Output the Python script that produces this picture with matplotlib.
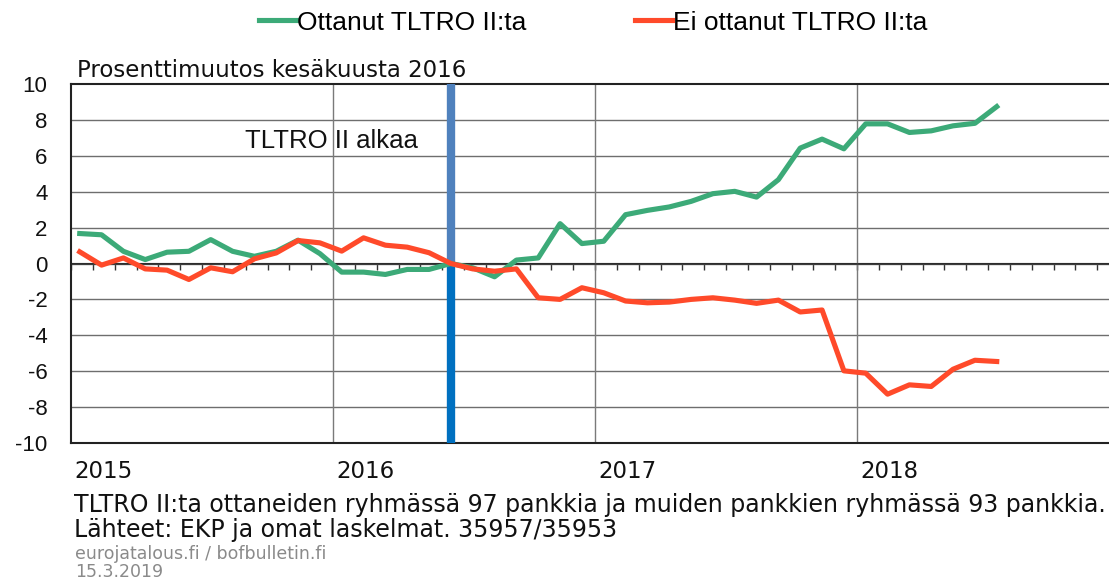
import matplotlib
matplotlib.use("Agg")
import matplotlib.pyplot as plt
import numpy as np

plt.rcParams['font.family'] = ['Liberation Sans', 'DejaVu Sans']
WIDE = ['DejaVu Sans']

# ---- data ----
start_year = 2015
n_months = 43  # Jan 2015 .. Jul 2018
took_tltro = [1.67, 1.60, 0.68, 0.22, 0.63, 0.68, 1.33, 0.68, 0.40, 0.68,
              1.30, 0.55, -0.48, -0.48, -0.61, -0.33, -0.33, 0.00, -0.24, -0.74,
              0.19, 0.31, 2.22, 1.11, 1.24, 2.72, 2.96, 3.15, 3.46, 3.89,
              4.02, 3.70, 4.67, 6.43, 6.93, 6.39, 7.78, 7.78, 7.30, 7.39,
              7.67, 7.81, 8.74]
no_tltro = [0.65, -0.09, 0.31, -0.30, -0.37, -0.89, -0.24, -0.46, 0.26, 0.59,
            1.28, 1.15, 0.69, 1.43, 1.02, 0.91, 0.60, 0.00, -0.30, -0.43,
            -0.30, -1.91, -2.00, -1.35, -1.63, -2.09, -2.19, -2.15, -2.00, -1.91,
            -2.04, -2.22, -2.04, -2.70, -2.59, -5.98, -6.11, -7.28, -6.76, -6.85,
            -5.89, -5.39, -5.46]
years = [2015, 2016, 2017, 2018]
yticks = list(range(-10, 11, 2))
tltro_start = 2016 + (5 + 0.4) / 12  # June 2016

label_took = "Ottanut TLTRO II:ta"
label_no = "Ei ottanut TLTRO II:ta"

x = start_year + (np.arange(n_months) + 0.4) / 12.0

GREEN = '#3CAA78'
RED = '#FF4A2A'

fig = plt.figure(figsize=(11.09, 5.81), dpi=100)
ax = fig.add_axes([71 / 1109, (581 - 443) / 581, (1109 - 71) / 1109, 359 / 581])

ax.set_xlim(2015.0, 2015 + (1109 - 71) / 262)
ax.set_ylim(-10, 10)

# grid
for yv in yticks[1:-1]:
    ax.axhline(yv, color='#6e6e6e', lw=1.0, zorder=1)
for yr in years[1:]:
    ax.axvline(yr, color='#7a7a7a', lw=1.0, zorder=1)
ax.axhline(0, color='#333333', lw=1.2, zorder=2)

# start line
ax.plot([tltro_start, tltro_start], [0, 10], color='#4F81BD', lw=6, zorder=3,
        solid_capstyle='butt')
ax.plot([tltro_start, tltro_start], [-10, 0], color='#0070C0', lw=6, zorder=3,
        solid_capstyle='butt')

l1, = ax.plot(x, took_tltro, color=GREEN, lw=3.7, zorder=4, label=label_took,
              solid_joinstyle='round')
l2, = ax.plot(x, no_tltro, color=RED, lw=3.7, zorder=5, label=label_no,
              solid_joinstyle='round')

# spines
for s in ['left', 'top', 'bottom']:
    ax.spines[s].set_color('#222222')
    ax.spines[s].set_linewidth(1.5)
ax.spines['right'].set_visible(False)

ax.set_yticks(yticks)
ax.set_yticklabels([str(v) for v in yticks])
ax.tick_params(axis='y', length=0, labelsize=16, pad=17, colors='#111111')
ax.set_xticks([])

# monthly ticks on zero line
sec = ax.secondary_xaxis(0.5)
sec.set_xticks(start_year + np.arange(0, 48) / 12.0)
sec.set_xticklabels([])
sec.tick_params(axis='x', direction='in', length=5, width=1.0, color='#333333')
sec.spines['bottom'].set_visible(False)

# year labels
for yr in years:
    ax.text(yr + 3 / 262, -11.6, str(yr), ha='left', va='center', fontsize=16.5,
            family=WIDE, color='#111111', transform=ax.transData, clip_on=False)

ax.text(0.006, 1.005, "Prosenttimuutos kesäkuusta 2016", transform=ax.transAxes,
        ha='left', va='bottom', fontsize=16.5, family=WIDE, color='#111111')
ax.text(tltro_start - 0.125, 6.8, "TLTRO II alkaa", ha='right', va='center',
        fontsize=18.5, color='#111111')

fig.legend(handles=[l1, l2], loc='upper center', bbox_to_anchor=(593 / 1109, 1.0),
           ncol=2, frameon=False, fontsize=19, handlelength=1.4,
           handletextpad=0.05, columnspacing=4.1, borderaxespad=0.0)

fig.text(74 / 1109, 1 - 505 / 581,
         "TLTRO II:ta ottaneiden ryhmässä 97 pankkia ja muiden pankkien ryhmässä 93 pankkia.",
         ha='left', va='center', fontsize=17, family=WIDE, color='#111111')
fig.text(74 / 1109, 1 - 530 / 581, "Lähteet: EKP ja omat laskelmat. 35957/35953",
         ha='left', va='center', fontsize=17, family=WIDE, color='#111111')
fig.text(75 / 1109, 1 - 554 / 581, "eurojatalous.fi / bofbulletin.fi",
         ha='left', va='center', fontsize=12.5, family=WIDE, color='#8a8a8a')
fig.text(75 / 1109, 1 - 572 / 581, "15.3.2019",
         ha='left', va='center', fontsize=12.5, family=WIDE, color='#8a8a8a')

fig.savefig('out.png', dpi=100)
